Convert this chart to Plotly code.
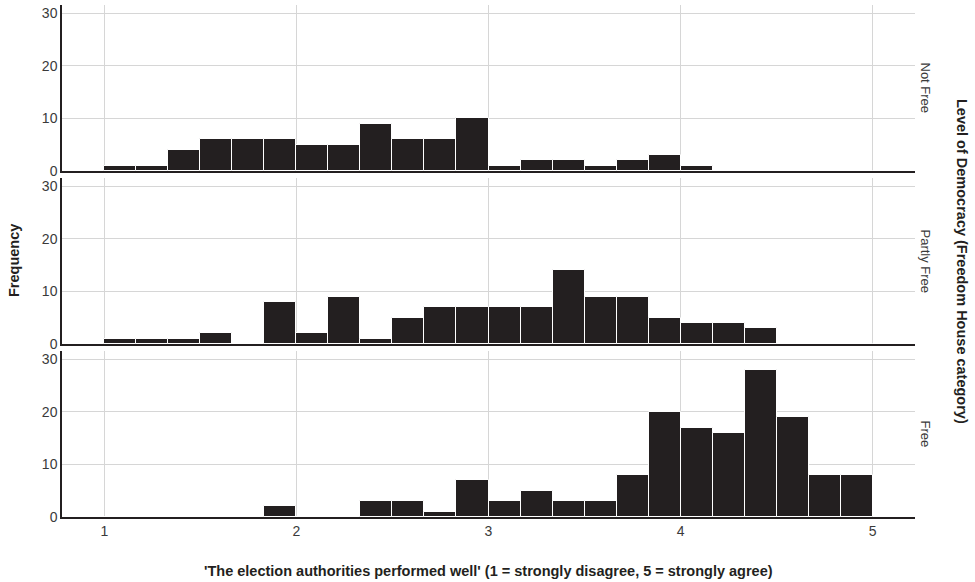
import plotly.graph_objects as go
from plotly.subplots import make_subplots

# Histogram bins: start at 1, width 1/6, 24 bins up to 5
bin_start = 1.0
bin_width = 1 / 6
panels = ["Not Free", "Partly Free", "Free"]

not_free = [1, 1, 4, 6, 6, 6, 5, 5, 9, 6, 6, 10, 1, 2, 2, 1, 2, 3, 1, 0, 0, 0, 0, 0]
partly_free = [1, 1, 1, 2, 0, 8, 2, 9, 1, 5, 7, 7, 7, 7, 14, 9, 9, 5, 4, 4, 3, 0, 0, 0]
free = [0, 0, 0, 0, 0, 2, 0, 0, 3, 3, 1, 7, 3, 5, 3, 3, 8, 20, 17, 16, 28, 19, 8, 8]

x_ticks = [1, 2, 3, 4, 5]
y_ticks = [0, 10, 20, 30]

series = [not_free, partly_free, free]
centers = [bin_start + bin_width * (i + 0.5) for i in range(len(free))]

fig = make_subplots(rows=3, cols=1, shared_xaxes=True, vertical_spacing=0.0137)

for r, counts in enumerate(series, start=1):
    fig.add_trace(
        go.Bar(
            x=centers,
            y=counts,
            width=bin_width,
            marker=dict(color="#231f20", line=dict(color="white", width=1)),
            showlegend=False,
        ),
        row=r, col=1,
    )

font_family = "Liberation Sans, Arial, Helvetica, sans-serif"
grid_c = "#d6d6d6"
tick_c = "#3a3a3a"
for r in range(1, 4):
    fig.update_xaxes(
        range=[0.78, 5.22], tickvals=x_ticks, showgrid=True, gridcolor=grid_c, gridwidth=1.3,
        showline=True, linecolor="#231f20", linewidth=1.5, zeroline=False,
        ticks="", showticklabels=(r == 3),
        tickfont=dict(size=14, color=tick_c, family=font_family),
        row=r, col=1,
    )
    fig.update_yaxes(
        range=[0, 31.6], tickvals=y_ticks, showgrid=True, gridcolor=grid_c, gridwidth=1.3,
        showline=True, linecolor="#231f20", linewidth=1.5, zeroline=False, ticks="",
        tickfont=dict(size=14, color=tick_c, family=font_family),
        row=r, col=1,
    )

annotations = []
# facet strip labels
doms = [fig.layout.yaxis.domain, fig.layout.yaxis2.domain, fig.layout.yaxis3.domain]
for name, d in zip(panels, doms):
    annotations.append(dict(
        text=name, x=1, xref="paper", xanchor="left", xshift=1,
        y=(d[0] + d[1]) / 2, yref="paper", yanchor="middle",
        textangle=90, showarrow=False,
        font=dict(size=13, color=tick_c, family=font_family),
    ))
annotations.append(dict(
    text="<b>Level of Democracy (Freedom House category)</b>",
    x=1, xref="paper", xanchor="left", xshift=37,
    y=0.5, yref="paper", yanchor="middle", textangle=90, showarrow=False,
    font=dict(size=14.5, color="#231f20", family=font_family),
))
annotations.append(dict(
    text="<b>Frequency</b>",
    x=0, xref="paper", xanchor="right", xshift=-38,
    y=0.5, yref="paper", yanchor="middle", textangle=-90, showarrow=False,
    font=dict(size=14.5, color="#231f20", family=font_family),
))
annotations.append(dict(
    text="<b>'The election authorities performed well' (1 = strongly disagree, 5 = strongly agree)</b>",
    x=0.5, xref="paper", xanchor="center",
    y=0, yref="paper", yanchor="top", yshift=-44, showarrow=False,
    font=dict(size=14.5, color="#231f20", family=font_family),
))

fig.update_layout(
    width=975, height=582,
    margin=dict(l=62, r=60, t=5, b=65),
    paper_bgcolor="white", plot_bgcolor="white",
    bargap=0, annotations=annotations,
    font=dict(family=font_family),
)

fig.write_html(
    "out.html",
    config={"displayModeBar": False},
    post_script="document.body.style.margin='0px';document.body.style.padding='0px';",
)
